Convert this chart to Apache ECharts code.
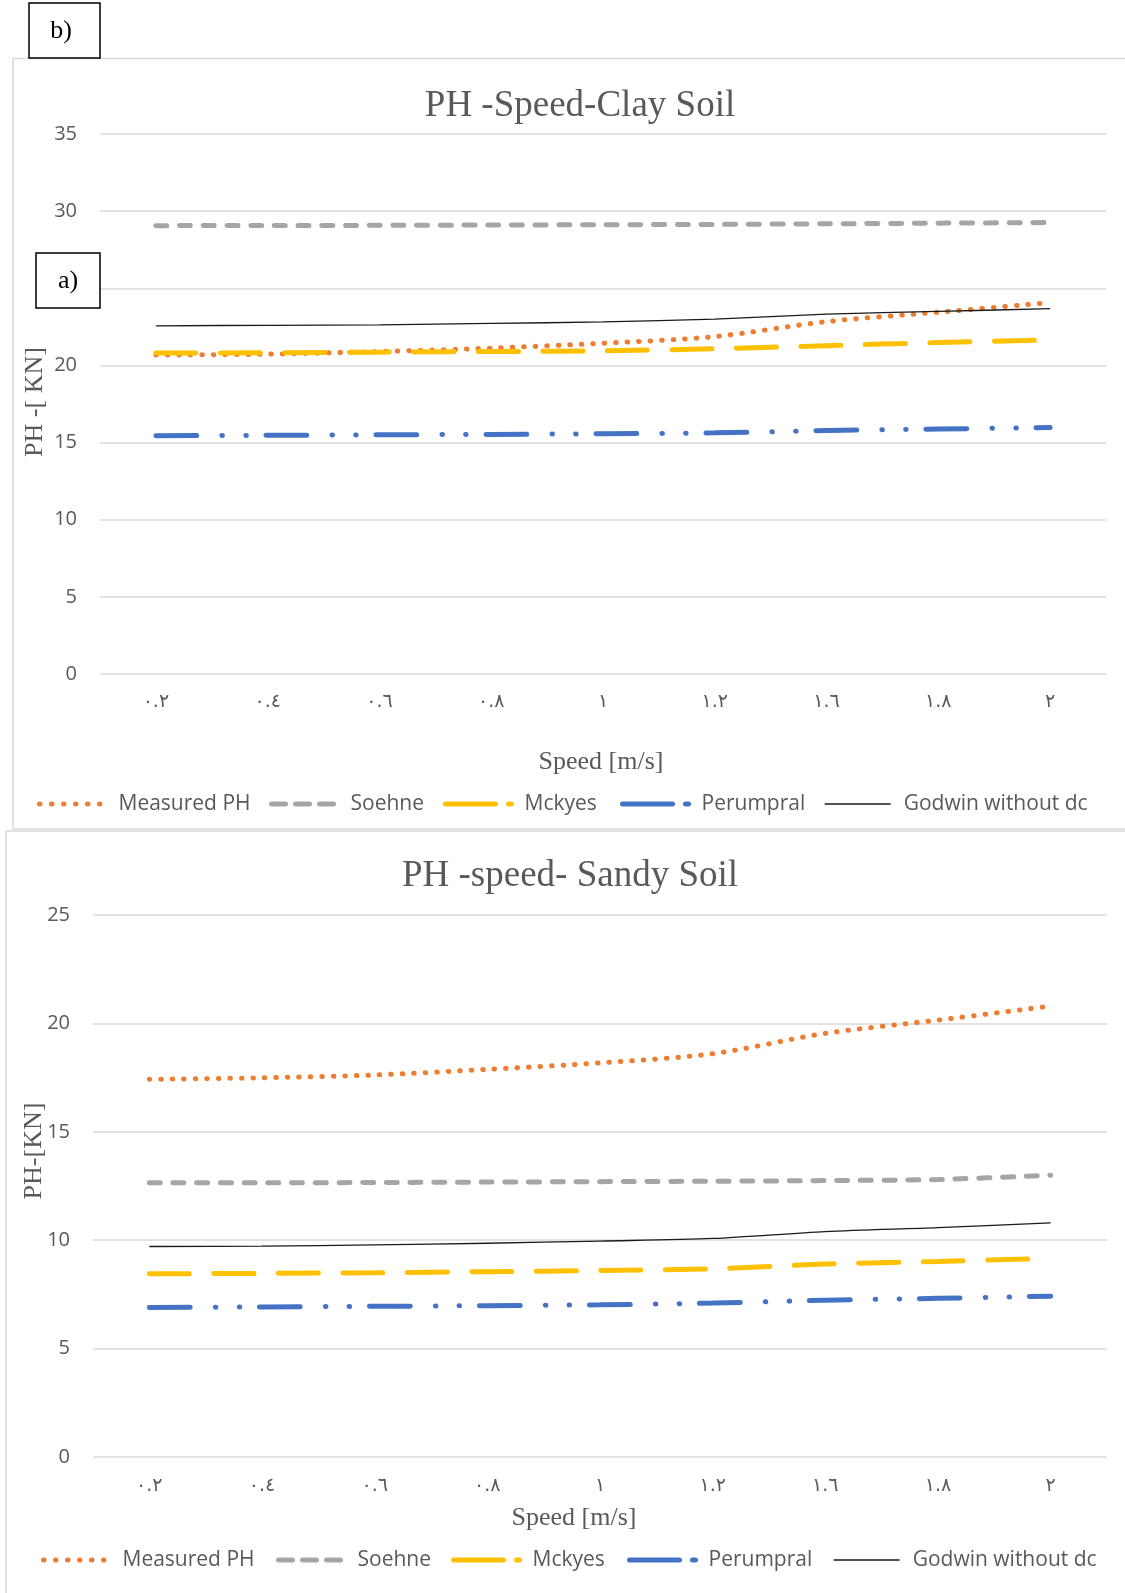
<!DOCTYPE html>
<html>
<head>
<meta charset="utf-8">
<script src="https://cdn.jsdelivr.net/npm/echarts@6/dist/echarts.min.js"></script>
<style>
  body { margin: 0; background: #fff; }
  #main { width: 1125px; height: 1593px; }
</style>
</head>
<body>
<div id="main"></div>
<script>
// speed categories (Arabic-Indic digits as in the source)
const speedLabels = ['٠.٢', '٠.٤', '٠.٦', '٠.٨', '١', '١.٢', '١.٦', '١.٨', '٢'];
const seriesNames = ['Measured PH', 'Soehne', 'Mckyes', 'Perumpral', 'Godwin without dc'];

// clay soil, PH [kN]
const clayMeasured = [20.67, 20.73, 20.9, 21.12, 21.44, 21.87, 22.84, 23.45, 24.07];
const claySoehne = [29.06, 29.07, 29.08, 29.1, 29.12, 29.14, 29.18, 29.22, 29.26];
const clayMckyes = [20.8, 20.82, 20.86, 20.9, 20.95, 21.08, 21.28, 21.48, 21.66];
const clayPerumpral = [15.45, 15.47, 15.5, 15.53, 15.57, 15.63, 15.78, 15.88, 15.97];
const clayGodwin = [22.57, 22.6, 22.63, 22.72, 22.82, 23.0, 23.32, 23.5, 23.68];

// sandy soil, PH [kN]
const sandyMeasured = [17.42, 17.49, 17.62, 17.88, 18.18, 18.6, 19.54, 20.15, 20.8];
const sandySoehne = [12.65, 12.65, 12.66, 12.68, 12.7, 12.72, 12.75, 12.8, 13.0];
const sandyMckyes = [8.45, 8.47, 8.5, 8.55, 8.6, 8.68, 8.9, 9.02, 9.17];
const sandyPerumpral = [6.9, 6.92, 6.95, 6.98, 7.02, 7.1, 7.23, 7.32, 7.42];
const sandyGodwin = [9.71, 9.73, 9.78, 9.86, 9.96, 10.08, 10.4, 10.58, 10.8];

const labelColor = '#595959';
const gridColor = '#D9D9D9';
const serif = '"Liberation Serif", "Times New Roman", serif';

const styles = {
    'Measured PH': { color: '#ED7D31', width: 5, type: [0.5, 11], cap: 'round' },
    'Soehne': { color: '#A5A5A5', width: 5, type: [11, 12.7], cap: 'round' },
    'Mckyes': { color: '#FFC000', width: 5, type: [40, 24.5], cap: 'round' },
    'Perumpral': { color: '#4472C4', width: 5, type: [41, 25, 0.5, 23.2, 0.5, 19.8], cap: 'round' },
    'Godwin without dc': { color: '#1a1a1a', width: 1.3, type: 'solid', cap: 'butt' }
};

// legend icons use slightly shorter patterns so they read like the Excel key
const legendTypes = {
    'Measured PH': [0.5, 11.5],
    'Soehne': [14, 10],
    'Mckyes': [50, 13],
    'Perumpral': [50, 13],
    'Godwin without dc': 'solid'
};

function makeSeries(name, data, idx) {
    const s = styles[name];
    return {
        type: 'line',
        name: name,
        xAxisIndex: idx,
        yAxisIndex: idx,
        data: data,
        symbol: 'none',
        smooth: 0.3,
        itemStyle: { color: s.color },
        lineStyle: { color: s.color, width: s.width, type: s.type, cap: s.cap }
    };
}

function makeLegends(lefts, top) {
    return seriesNames.map((name, i) => ({
        data: [name],
        left: lefts[i],
        top: top,
        padding: 0,
        itemWidth: 66,
        itemHeight: 14,
        itemStyle: { opacity: 0 },
        lineStyle: {
            color: styles[name].color,
            width: styles[name].width,
            type: legendTypes[name],
            cap: styles[name].cap
        },
        textStyle: {
            fontFamily: 'Open Sans',
            fontSize: 21,
            lineHeight: 24,
            color: labelColor,
            padding: [0, 0, 0, 8]
        }
    }));
}

function xAxisFor(idx, margin) {
    return {
        type: 'category',
        gridIndex: idx,
        data: speedLabels,
        boundaryGap: true,
        axisLine: { show: false },
        axisTick: { show: false },
        axisLabel: {
            margin: margin,
            fontFamily: 'DejaVu Sans',
            fontSize: 19,
            color: labelColor
        }
    };
}

function yAxisFor(idx, max) {
    return {
        type: 'value',
        gridIndex: idx,
        min: 0,
        max: max,
        interval: 5,
        axisLine: { show: false },
        axisTick: { show: false },
        axisLabel: {
            margin: 23,
            fontFamily: 'Open Sans',
            fontSize: 20,
            color: labelColor
        },
        splitLine: { lineStyle: { color: gridColor, width: 1.5 } }
    };
}

function label(text, x, y, size, extra) {
    return Object.assign({
        type: 'text',
        x: x,
        y: y,
        z: 100,
        style: {
            text: text,
            font: size + 'px ' + serif,
            fill: labelColor,
            align: 'center',
            verticalAlign: 'middle'
        }
    }, extra || {});
}

const chart = echarts.init(document.getElementById('main'));

const option = {
    animation: false,
    backgroundColor: '#fff',
    grid: [
        { left: 100, right: 19, top: 134, bottom: 919 },
        { left: 93, right: 18, top: 915, bottom: 136 }
    ],
    xAxis: [xAxisFor(0, 19), xAxisFor(1, 20)],
    yAxis: [yAxisFor(0, 35), yAxisFor(1, 25)],
    legend: makeLegends([37, 269, 443, 620, 824], 792)
        .concat(makeLegends([41, 276, 451, 627, 833], 1548)),
    series: [
        makeSeries('Measured PH', clayMeasured, 0),
        makeSeries('Soehne', claySoehne, 0),
        makeSeries('Mckyes', clayMckyes, 0),
        makeSeries('Perumpral', clayPerumpral, 0),
        makeSeries('Godwin without dc', clayGodwin, 0),
        makeSeries('Measured PH', sandyMeasured, 1),
        makeSeries('Soehne', sandySoehne, 1),
        makeSeries('Mckyes', sandyMckyes, 1),
        makeSeries('Perumpral', sandyPerumpral, 1),
        makeSeries('Godwin without dc', sandyGodwin, 1)
    ],
    graphic: [
        // chart panel borders
        {
            type: 'rect', z: -10, silent: true,
            shape: { x: 13, y: 58.5, width: 1200, height: 770.5 },
            style: { fill: null, stroke: gridColor, lineWidth: 1.5 }
        },
        {
            type: 'rect', z: -10, silent: true,
            shape: { x: 6, y: 831, width: 1200, height: 900 },
            style: { fill: null, stroke: gridColor, lineWidth: 1.5 }
        },
        // titles
        label('PH -Speed-Clay Soil', 580, 106, 37),
        label('PH -speed- Sandy Soil', 570, 876, 37),
        // axis names
        label('Speed [m/s]', 601, 762, 26),
        label('Speed [m/s]', 574, 1518, 26),
        label('PH -[ KN]', 35, 402, 26, { rotation: Math.PI / 2 }),
        label('PH-[KN]', 34, 1151, 26, { rotation: Math.PI / 2 }),
        // panel tags
        {
            type: 'rect', z: 100,
            shape: { x: 29, y: 3, width: 71, height: 55 },
            style: { fill: '#fff', stroke: '#000', lineWidth: 1.5 }
        },
        {
            type: 'text', x: 61, y: 31, z: 101,
            style: { text: 'b)', font: '26px ' + serif, fill: '#000', align: 'center', verticalAlign: 'middle' }
        },
        {
            type: 'rect', z: 100,
            shape: { x: 36, y: 253, width: 64, height: 55 },
            style: { fill: '#fff', stroke: '#000', lineWidth: 1.5 }
        },
        {
            type: 'text', x: 68, y: 281, z: 101,
            style: { text: 'a)', font: '26px ' + serif, fill: '#000', align: 'center', verticalAlign: 'middle' }
        }
    ]
};

chart.setOption(option);
</script>
</body>
</html>
